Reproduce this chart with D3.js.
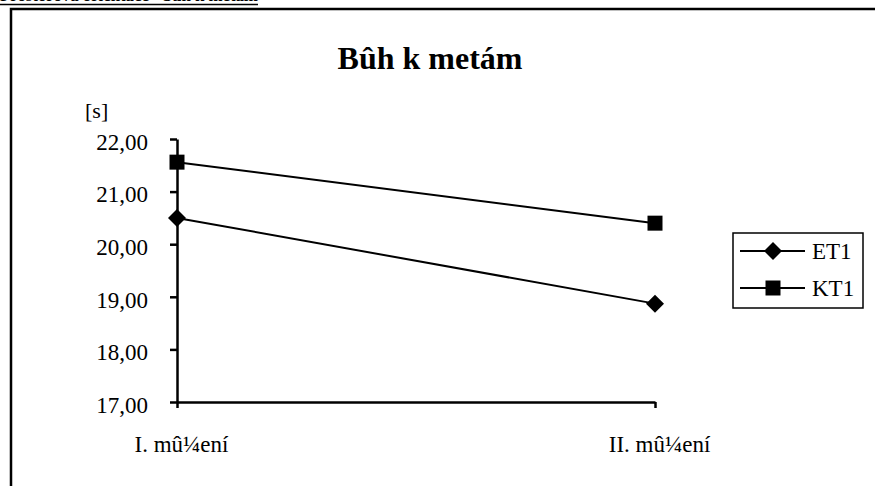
<!DOCTYPE html>
<html>
<head>
<meta charset="utf-8">
<script src="https://cdn.jsdelivr.net/npm/d3@7"></script>
<style>
  body { margin: 0; background: #fff; }
  svg { display: block; font-family: "Liberation Serif", "Times New Roman", serif; }
</style>
</head>
<body>
<svg id="chart" width="875" height="486"></svg>
<script>
// data
const categories = ["I. mû¼ení", "II. mû¼ení"];
const seriesNames = ["ET1", "KT1"];
const et1 = [20.50, 18.87];
const kt1 = [21.56, 20.40];
const yTicks = [17, 18, 19, 20, 21, 22];

const svg = d3.select("#chart");

// page heading, mostly cut off at top
svg.append("text")
  .attr("x", 0).attr("y", 1)
  .attr("font-size", 17).attr("font-weight", "bold")
  .attr("textLength", 258)
  .text("Prostorová orientace - bûh k metám");
svg.append("line")
  .attr("x1", 0).attr("x2", 258).attr("y1", 4.5).attr("y2", 4.5)
  .attr("stroke", "#000").attr("stroke-width", 1.5);

// chart frame (top + left)
svg.append("path")
  .attr("d", "M11,486 V9 H875")
  .attr("fill", "none").attr("stroke", "#000").attr("stroke-width", 2.5);

// title
svg.append("text")
  .attr("x", 430).attr("y", 69)
  .attr("text-anchor", "middle")
  .attr("font-size", 32).attr("font-weight", "bold")
  .text("Bûh k metám");

const x = d3.scalePoint().domain(categories).range([177, 655]);
const y = d3.scaleLinear().domain([17, 22]).range([402, 139]);

// y axis
const yAxis = svg.append("g")
  .attr("transform", "translate(177,0)")
  .call(d3.axisLeft(y).tickValues(yTicks).tickSize(7).tickSizeOuter(0)
    .tickFormat(d => d3.format(".2f")(d).replace(".", ",")));
yAxis.select(".domain").attr("stroke-width", 2.5);
yAxis.selectAll(".tick line").attr("stroke-width", 2.5);
yAxis.selectAll("text").attr("font-size", 23).attr("font-family", "Liberation Serif")
  .attr("x", -29).attr("dy", "0.45em").attr("fill", "#000");

svg.append("text")
  .attr("x", 85).attr("y", 118)
  .attr("font-size", 22)
  .text("[s]");

// x axis
const xAxis = svg.append("g")
  .attr("transform", "translate(0,402)")
  .call(d3.axisBottom(x).tickSize(6).tickSizeOuter(0).tickFormat(""));
xAxis.select(".domain").attr("stroke-width", 2.5);
xAxis.selectAll(".tick line").attr("stroke-width", 2.5);
xAxis.selectAll(".tick").append("text")
  .attr("y", 50).attr("x", 4)
  .attr("text-anchor", "middle")
  .attr("font-size", 23).attr("font-family", "Liberation Serif")
  .attr("fill", "#000")
  .text(d => d);

// markers: rotated square and square
const diamond = "M0,-9L9,0L0,9L-9,0Z";
const square = "M-7.5,-7.5H7.5V7.5H-7.5Z";

// lines
const line = d3.line().x((d, i) => x(categories[i])).y(d => y(d));
const series = [
  { name: seriesNames[0], values: et1, marker: diamond },
  { name: seriesNames[1], values: kt1, marker: square }
];

series.forEach(s => {
  svg.append("path")
    .attr("d", line(s.values))
    .attr("fill", "none").attr("stroke", "#000").attr("stroke-width", 2);
  svg.selectAll(null)
    .data(s.values)
    .enter().append("path")
    .attr("transform", (d, i) => `translate(${x(categories[i])},${y(d)})`)
    .attr("d", s.marker)
    .attr("fill", "#000");
});

// legend
const legend = svg.append("g");
legend.append("rect")
  .attr("x", 733).attr("y", 233).attr("width", 130).attr("height", 75)
  .attr("fill", "#fff").attr("stroke", "#000").attr("stroke-width", 1.5);
series.forEach((s, i) => {
  const ly = 251 + i * 37;
  legend.append("line")
    .attr("x1", 740).attr("x2", 805).attr("y1", ly).attr("y2", ly)
    .attr("stroke", "#000").attr("stroke-width", 2);
  legend.append("path")
    .attr("transform", `translate(773,${ly})`)
    .attr("d", s.marker)
    .attr("fill", "#000");
  legend.append("text")
    .attr("x", 812).attr("y", ly + 8)
    .attr("font-size", 23)
    .text(s.name);
});
</script>
</body>
</html>
